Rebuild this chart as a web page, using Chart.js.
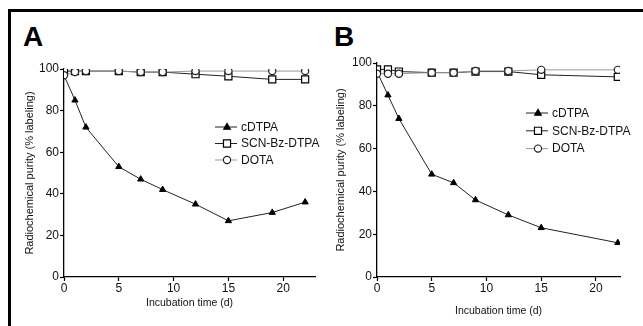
<!DOCTYPE html>
<html>
<head>
<meta charset="utf-8">
<script src="https://cdn.jsdelivr.net/npm/chart.js@4.4.1/dist/chart.umd.min.js"></script>
<style>
    html, body { margin: 0; padding: 0; background: #fff; }
    body { width: 643px; height: 326px; position: relative; overflow: hidden; font-family: "Liberation Sans", Arial, sans-serif; }
    .frame-top { position: absolute; left: 8px; top: 9px; width: 640px; height: 2.5px; background: #000; }
    .frame-left { position: absolute; left: 8px; top: 9px; width: 2.5px; height: 330px; background: #000; }
    .tag { position: absolute; font-weight: bold; font-size: 28px; line-height: 28px; color: #000; }
    .panel { position: absolute; }
</style>
</head>
<body>
<div class="frame-top"></div>
<div class="frame-left"></div>
<div class="tag" style="left:23px; top:23px;">A</div>
<div class="tag" style="left:334px; top:23px;">B</div>
<div class="panel" style="left:12px; top:55px; width:310px; height:259px;"><canvas id="chartA" width="310" height="259"></canvas></div>
<div class="panel" style="left:326px; top:50px; width:317px; height:272px;"><canvas id="chartB" width="317" height="272"></canvas></div>

<script>
// Panel A
const daysA = [0, 1, 2, 5, 7, 9, 12, 15, 19, 22];
const cdtpaA = [97, 85, 72, 53, 47, 42, 35, 27, 31, 36];
const scnA = [99, 99, 99, 99, 98.5, 98.5, 97.5, 96.5, 95, 95];
const dotaA = [97, 98.5, 99, 99, 98.5, 98.5, 99, 99, 99, 99];

// Panel B
const daysB = [0, 1, 2, 5, 7, 9, 12, 15, 22];
const cdtpaB = [96, 85, 74, 48, 44, 36, 29, 23, 16];
const scnB = [97, 97, 96, 95.5, 95.5, 96, 96, 94.5, 93.5];
const dotaB = [95, 95, 95, 95.5, 95.5, 96.3, 96.3, 96.8, 96.8];

const seriesNames = ["cDTPA", "SCN-Bz-DTPA", "DOTA"];
const xTicks = [0, 5, 10, 15, 20];
const yTicks = [0, 20, 40, 60, 80, 100];
const xTitle = "Incubation time (d)";
const yTitle = "Radiochemical purity (% labeling)";

const FONT = "'Liberation Sans', Arial, sans-serif";

const toPoints = (xs, ys) => xs.map((x, i) => ({ x: x, y: ys[i] }));

function drawMarker(ctx, style, r, x, y) {
    ctx.lineWidth = 1.2;
    ctx.beginPath();
    if (style === "rect") {
        const s = Math.SQRT1_2 * r;
        ctx.rect(x - s, y - s, 2 * s, 2 * s);
    } else if (style === "circle") {
        ctx.arc(x, y, r, 0, Math.PI * 2);
    } else {
        ctx.moveTo(x, y - r);
        ctx.lineTo(x + r * 0.9, y + r * 0.6);
        ctx.lineTo(x - r * 0.9, y + r * 0.6);
        ctx.closePath();
    }
    ctx.fill();
    ctx.stroke();
}

// little legend drawn inside the plot, Prism style
const insideLegend = {
    id: "insideLegend",
    afterDraw(chart, args, opts) {
        const ctx = chart.ctx;
        ctx.save();
        chart.data.datasets.forEach((ds, i) => {
            const y = opts.y + i * opts.gap;
            const x0 = opts.x;
            const x1 = opts.x + 22;
            ctx.strokeStyle = ds.borderColor;
            ctx.lineWidth = 1;
            ctx.beginPath();
            ctx.moveTo(x0, y);
            ctx.lineTo(x1, y);
            ctx.stroke();
            ctx.fillStyle = ds.pointBackgroundColor;
            ctx.strokeStyle = ds.pointBorderColor;
            drawMarker(ctx, ds.pointStyle, ds.pointRadius, (x0 + x1) / 2 + 1, y);
            ctx.fillStyle = "#111";
            ctx.font = "12px " + FONT;
            ctx.textBaseline = "middle";
            ctx.fillText(seriesNames[i], x1 + 4, y + 0.5);
        });
        ctx.restore();
    },
};

function makePanel(id, days, cd, scn, dota, cfg) {
    new Chart(document.getElementById(id), {
        type: "line",
        data: {
            datasets: [
                {
                    label: seriesNames[0],
                    data: toPoints(days, cd),
                    borderColor: "#222",
                    borderWidth: 1,
                    pointStyle: "triangle",
                    pointRadius: 3.6,
                    pointBackgroundColor: "#000",
                    pointBorderColor: "#000",
                    pointBorderWidth: 1,
                    order: 3,
                },
                {
                    label: seriesNames[1],
                    data: toPoints(days, scn),
                    borderColor: "#222",
                    borderWidth: 1,
                    pointStyle: "rect",
                    pointRadius: 5,
                    pointBackgroundColor: "#fff",
                    pointBorderColor: "#000",
                    pointBorderWidth: 1.2,
                    order: 2,
                },
                {
                    label: seriesNames[2],
                    data: toPoints(days, dota),
                    borderColor: "#999",
                    borderWidth: 1,
                    pointStyle: "circle",
                    pointRadius: 3.6,
                    pointBackgroundColor: "#fff",
                    pointBorderColor: "#222",
                    pointBorderWidth: 1.2,
                    order: 1,
                },
            ],
        },
        options: {
            responsive: false,
            animation: false,
            layout: { padding: cfg.padding },
            plugins: {
                legend: { display: false },
                tooltip: { enabled: false },
                insideLegend: cfg.legend,
            },
            scales: {
                x: {
                    type: "linear",
                    min: 0,
                    max: cfg.xMax,
                    afterBuildTicks: (scale) => {
                        scale.ticks = xTicks.map((v) => ({ value: v }));
                    },
                    afterFit: (scale) => {
                        scale.height = cfg.xHeight;
                    },
                    grid: { drawOnChartArea: false, drawTicks: true, tickLength: 4, tickWidth: 1.2, color: "#000" },
                    border: { color: "#000", width: 1.3 },
                    ticks: { color: "#111", font: { family: FONT, size: 12 }, padding: 0, maxRotation: 0 },
                    title: { display: true, text: xTitle, color: "#111", font: { family: FONT, size: 10.5 }, padding: { top: 0, bottom: 5 } },
                },
                y: {
                    min: 0,
                    max: 100,
                    afterBuildTicks: (scale) => {
                        scale.ticks = yTicks.map((v) => ({ value: v }));
                    },
                    afterFit: (scale) => {
                        scale.width = cfg.yWidth;
                    },
                    grid: { drawOnChartArea: false, drawTicks: true, tickLength: 4, tickWidth: 1.2, color: "#000" },
                    border: { color: "#000", width: 1.3 },
                    ticks: { color: "#111", font: { family: FONT, size: 12 }, padding: 1 },
                    title: { display: true, text: yTitle, color: "#111", font: { family: FONT, size: 11 }, padding: { top: cfg.yTitlePad, bottom: 0 } },
                },
            },
        },
        plugins: [insideLegend],
    });
}

makePanel("chartA", daysA, cdtpaA, scnA, dotaA, {
    padding: { left: 0, top: 14, right: 7, bottom: 0 },
    xMax: 22.9,
    xHeight: 37,
    yWidth: 52,
    yTitlePad: 11,
    legend: { x: 203, y: 72, gap: 16.5 },
});

makePanel("chartB", daysB, cdtpaB, scnB, dotaB, {
    padding: { left: 0, top: 13, right: 23, bottom: 0 },
    xMax: 22.2,
    xHeight: 45,
    yWidth: 51,
    yTitlePad: 8,
    legend: { x: 200, y: 63, gap: 17.8 },
});
</script>
</body>
</html>
